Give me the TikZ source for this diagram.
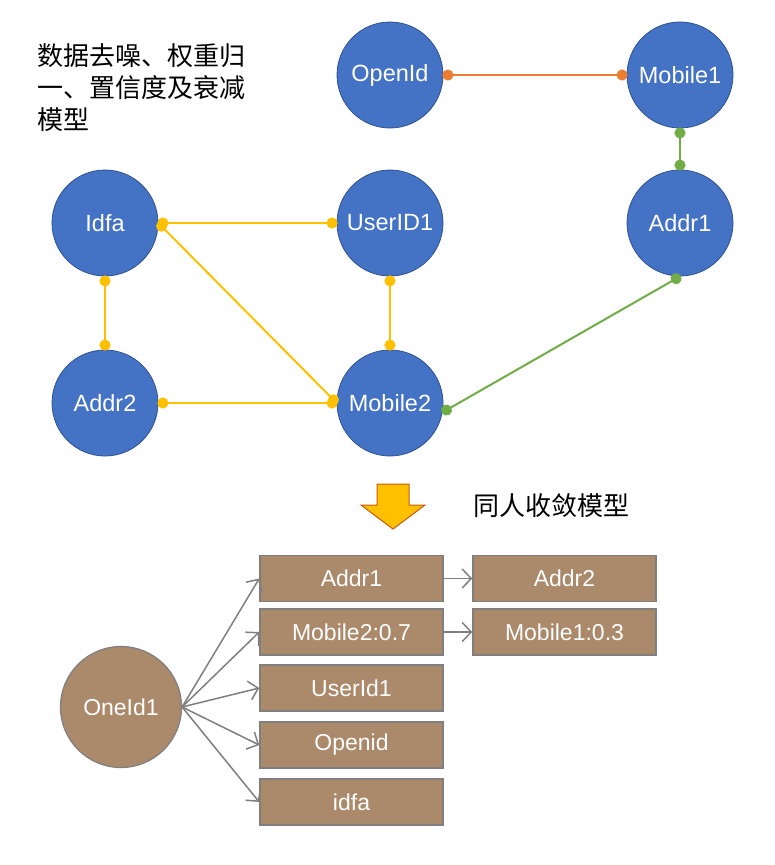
\documentclass[tikz,border=0pt]{standalone}
\usepackage{fontspec}
\setmainfont{Liberation Sans}
\newfontfamily\cjk{Noto Sans CJK SC}
\usetikzlibrary{arrows.meta}
\definecolor{nodeblue}{HTML}{4472C4}
\definecolor{nodeblueborder}{HTML}{2F528F}
\definecolor{linkyellow}{HTML}{FFC000}
\definecolor{linkorange}{HTML}{ED7D31}
\definecolor{linkgreen}{HTML}{70AD47}
\definecolor{tanfill}{HTML}{AB896B}
\definecolor{edgegray}{HTML}{7F7F7F}
\definecolor{arrowborder}{HTML}{C55A11}
\begin{document}
\begin{tikzpicture}[x=1pt,y=-1pt,
  bluenode/.style={circle, fill=nodeblue, draw=nodeblueborder, line width=0.8pt,
    minimum size=106pt, inner sep=0pt, text=white, font=\fontsize{23.5}{28}\selectfont},
  tannode/.style={circle, fill=tanfill, draw=edgegray, line width=1.2pt,
    minimum size=121pt, inner sep=0pt, text=white, font=\fontsize{23}{28}\selectfont},
  tanbox/.style={rectangle, fill=tanfill, draw=edgegray, line width=1.5pt,
    minimum width=183pt, minimum height=46pt, inner sep=0pt, text=white,
    font=\fontsize{23}{28}\selectfont},
  linkdot/.style={line width=2pt, {Circle[length=11pt,width=11pt]}-{Circle[length=11pt,width=11pt]},
    shorten <=-1pt, shorten >=-1pt},
  yellowlink/.style={linkdot, draw=linkyellow, fill=linkyellow},
  orangelink/.style={linkdot, draw=linkorange, fill=linkorange},
  greenlink/.style={linkdot, draw=linkgreen, fill=linkgreen},
  grayarrow/.style={draw=edgegray, line width=1.5pt, -{Straight Barb[length=9pt,width=19pt]}},
  titletext/.style={anchor=base west, inner sep=0pt, font=\cjk\fontsize{26}{32}\selectfont}
]
\useasboundingbox (0,0) rectangle (774,865);
\fill[white] (0,0) rectangle (774,865);

% title
\node[titletext] (t1) at (37,65.5) {数据去噪、权重归};
\node[titletext] (t2) at (37,97.5) {一、置信度及衰减};
\node[titletext] (t3) at (37,129) {模型};

% blue nodes
\node[bluenode] (OpenId) at (390,75) {OpenId};
\node[bluenode] (Mobile1) at (680,75) {Mobile1};
\node[bluenode] (Idfa) at (105,223) {Idfa};
\node[bluenode] (UserID1) at (390,223) {UserID1};
\node[bluenode] (Addr1) at (680,223) {Addr1};
\node[bluenode] (Addr2) at (105,403) {Addr2};
\node[bluenode] (Mobile2) at (390,403) {Mobile2};

% links
\draw[orangelink] (OpenId.east) -- (Mobile1.west);
\draw[greenlink] (Mobile1.south) -- (Addr1.north);
\draw[greenlink] (Addr1.south) -- (Mobile2.-10);
\draw[yellowlink] (Idfa.east) -- (UserID1.west);
\draw[yellowlink] (Idfa.east) -- (Mobile2.west);
\draw[yellowlink] (Idfa.south) -- (Addr2.north);
\draw[yellowlink] (UserID1.south) -- (Mobile2.north);
\draw[yellowlink] (Addr2.east) -- (Mobile2.west);

% block arrow
\draw[fill=linkyellow, draw=arrowborder, line width=1pt, line join=miter]
  (377,484) -- (409,484) -- (409,505) -- (425,505) -- (393,529) -- (361,505) -- (377,505) -- cycle;
\node[titletext] (t4) at (473,515) {同人收敛模型};

% bottom
\node[tannode] (OneId1) at (121,707) {OneId1};
\node[tanbox] (bAddr1) at (351.5,578.5) {Addr1};
\node[tanbox] (bMobile2) at (351.5,632) {Mobile2:0.7};
\node[tanbox] (bUserId1) at (351.5,688) {UserId1};
\node[tanbox] (bOpenid) at (351.5,745) {Openid};
\node[tanbox] (bidfa) at (351.5,802) {idfa};
\node[tanbox] (bAddr2) at (564.5,578.5) {Addr2};
\node[tanbox] (bMobile1) at (564.5,632) {Mobile1:0.3};

\foreach \b in {bAddr1,bMobile2,bUserId1,bOpenid,bidfa}
  \draw[grayarrow] (OneId1.east) -- (\b.west);
\draw[grayarrow] (bAddr1.east) -- (bAddr2.west);
\draw[grayarrow] (bMobile2.east) -- (bMobile1.west);
\end{tikzpicture}
\end{document}
